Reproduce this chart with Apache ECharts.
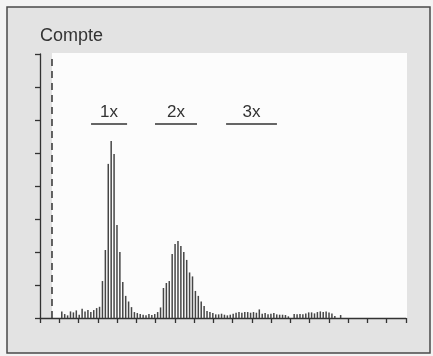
<!DOCTYPE html>
<html>
<head>
<meta charset="utf-8">
<script src="https://cdn.jsdelivr.net/npm/echarts@6/dist/echarts.min.js"></script>
<style>
  html, body { margin: 0; padding: 0; background: #f3f3f3; }
  #chart { width: 433px; height: 356px; }
</style>
</head>
<body>
<div id="chart"></div>
<script>
// histogram: one bar per channel, starting at channel 7
const channelCount = 126;
const firstChannel = 7;
const counts = [
  2.0, 1.2, 0.8, 2.0, 1.7, 2.3, 1.0, 2.8, 2.0, 2.4,
  1.8, 2.4, 3.0, 3.4, 11.2, 20.6, 46.7, 53.6, 49.7, 28.2,
  20.0, 10.9, 6.7, 5.0, 3.3, 1.8, 1.5, 1.2, 1.0, 0.8,
  1.2, 0.9, 1.2, 1.8, 3.2, 9.1, 10.6, 11.2, 19.4, 22.4,
  23.3, 21.8, 20.0, 17.6, 13.8, 12.6, 8.2, 6.7, 5.0, 3.6,
  2.1, 1.8, 1.5, 1.1, 1.1, 1.3, 1.0, 0.8, 1.0, 1.3,
  1.6, 1.8, 1.6, 1.8, 1.8, 1.6, 1.8, 1.6, 2.6, 1.3,
  1.5, 1.1, 1.3, 1.5, 1.1, 1.0, 1.0, 0.9, 0.5, 0,
  1.2, 1.1, 1.2, 1.1, 1.4, 1.7, 1.7, 1.4, 1.8, 2.0,
  1.8, 2.0, 1.7, 1.4, 0.6, 0, 0.9,
];

// x ticks (scale axis, 0..19) and y ticks (0..80)
const xTickMax = 19;
const yMax = 80;
const yStep = 10;

// peak markers: label, start / end on the tick scale
const peakLabels = ['1x', '2x', '3x'];
const peakStarts = [2.65, 5.97, 9.66];
const peakEnds = [4.52, 8.15, 12.3];
const peakLevel = 59;
const gatePos = 0.62; // dashed gate line

const channels = [];
const barData = [];
for (let i = 0; i < channelCount; i++) {
  channels.push(String(i));
  const k = i - firstChannel;
  barData.push(k >= 0 && k < counts.length ? counts[k] : 0);
}

const chart = echarts.init(document.getElementById('chart'));

const ink = '#333';
const font = 'Liberation Sans';

const option = {
  backgroundColor: '#f3f3f3',
  animation: false,
  textStyle: { fontFamily: font },
  title: {
    text: 'Compte',
    left: 40,
    top: 27,
    padding: 0,
    textStyle: { fontFamily: font, fontSize: 18, fontWeight: 'normal', color: ink },
  },
  graphic: [
    {
      type: 'rect',
      z: -10,
      shape: { x: 7, y: 7, width: 423, height: 346 },
      style: { fill: '#e3e3e3', stroke: '#4a4a4a', lineWidth: 1.5 },
    },
    {
      type: 'rect',
      z: -9,
      shape: { x: 52, y: 53, width: 355, height: 265 },
      style: { fill: '#fcfcfc' },
    },
  ],
  grid: { left: 40, right: 27, top: 54, bottom: 38 },
  xAxis: [
    {
      type: 'category',
      data: channels,
      show: false,
    },
    {
      type: 'value',
      min: 0,
      max: xTickMax,
      interval: 1,
      position: 'bottom',
      axisLine: { show: true, lineStyle: { color: ink, width: 1.3 } },
      axisTick: { show: true, inside: false, length: 5, lineStyle: { color: ink, width: 1.3 } },
      axisLabel: { show: false },
      splitLine: { show: false },
    },
  ],
  yAxis: {
    type: 'value',
    min: 0,
    max: yMax,
    interval: yStep,
    axisLine: { show: true, lineStyle: { color: ink, width: 1.3 } },
    axisTick: { show: true, inside: false, length: 5, lineStyle: { color: ink, width: 1.3 } },
    axisLabel: { show: false },
    splitLine: { show: false },
  },
  series: [
    {
      type: 'bar',
      xAxisIndex: 0,
      data: barData,
      barWidth: 1.5,
      itemStyle: { color: '#464646' },
    },
    {
      type: 'line',
      xAxisIndex: 1,
      data: [],
      markLine: {
        silent: true,
        symbol: 'none',
        animation: false,
        data: [
          {
            xAxis: gatePos,
            label: { show: false },
            lineStyle: { type: [7, 5], color: ink, width: 1.5 },
          },
        ].concat(peakLabels.map((name, i) => [
          {
            coord: [peakStarts[i], peakLevel],
            lineStyle: { type: 'solid', color: ink, width: 1.5 },
            label: {
              show: true,
              formatter: name,
              position: 'insideMiddleTop',
              distance: 2,
              color: ink,
              fontSize: 17,
              fontFamily: font,
            },
          },
          { coord: [peakEnds[i], peakLevel] },
        ])),
      },
    },
  ],
};

chart.setOption(option);
window.addEventListener('resize', function () {
  chart.resize();
});
</script>
</body>
</html>
